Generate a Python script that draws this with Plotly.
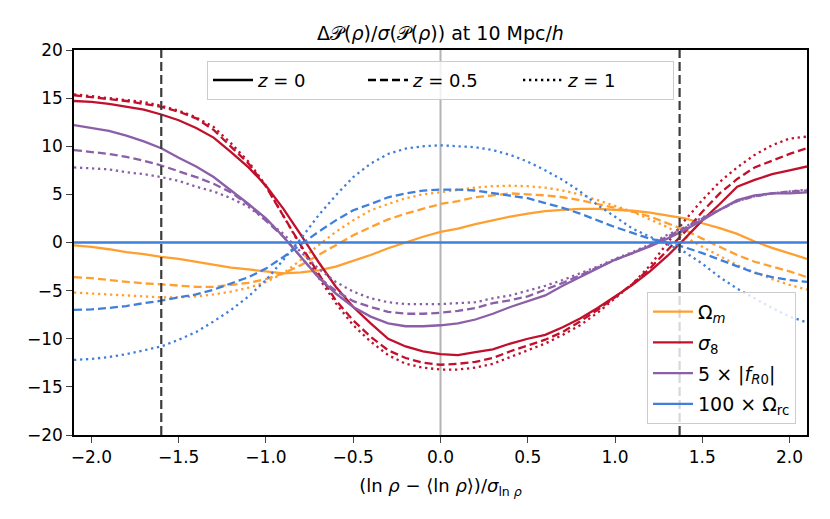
import plotly.graph_objects as go

# normalised log-density bins
x = [-2.1, -2.0, -1.9, -1.8, -1.7, -1.6, -1.5, -1.4, -1.3, -1.2, -1.1,
     -1.0, -0.9, -0.8, -0.7, -0.6, -0.5, -0.4, -0.3, -0.2, -0.1, 0.0,
     0.1, 0.2, 0.3, 0.4, 0.5, 0.6, 0.7, 0.8, 0.9, 1.0, 1.1,
     1.2, 1.3, 1.4, 1.5, 1.6, 1.7, 1.8, 1.9, 2.0, 2.1]

# Omega_m
om_z0 = [-0.3, -0.45, -0.7, -1.0, -1.2, -1.5, -1.7, -2.0, -2.35, -2.6, -2.8,
         -3.0, -3.2, -3.1, -2.9, -2.5, -1.9, -1.3, -0.6, 0.0, 0.6, 1.1,
         1.45, 1.9, 2.3, 2.7, 3.0, 3.25, 3.4, 3.5, 3.5, 3.4, 3.3,
         3.1, 2.8, 2.5, 2.0, 1.5, 0.9, 0.1, -0.55, -1.1, -1.7]
om_z05 = [-3.6, -3.7, -3.9, -4.1, -4.25, -4.35, -4.5, -4.6, -4.6, -4.4, -4.2,
          -3.8, -3.2, -2.35, -1.3, -0.3, 0.75, 1.6, 2.4, 3.0, 3.5, 4.0,
          4.3, 4.7, 4.9, 5.1, 5.0, 4.9, 4.7, 4.4, 4.0, 3.6, 3.2,
          2.7, 2.0, 1.3, 0.4, -0.45, -1.3, -2.0, -2.5, -3.0, -3.6]
om_z1 = [-5.2, -5.3, -5.4, -5.5, -5.6, -5.7, -5.7, -5.6, -5.4, -5.1, -4.7,
         -4.1, -3.2, -1.8, -0.3, 1.1, 2.3, 3.35, 4.0, 4.6, 5.0, 5.25,
         5.5, 5.7, 5.85, 5.9, 5.85, 5.7, 5.4, 5.0, 4.4, 3.8, 3.2,
         2.4, 1.6, 0.6, -0.45, -1.4, -2.35, -3.1, -3.8, -4.4, -4.9]

# sigma_8
s8_z0 = [14.7, 14.6, 14.4, 14.1, 13.8, 13.3, 12.7, 11.9, 10.9, 9.4, 7.8,
         5.9, 3.5, 0.8, -2.0, -4.6, -6.7, -8.4, -10.0, -10.8, -11.3, -11.6,
         -11.7, -11.4, -11.1, -10.5, -10.0, -9.6, -8.8, -7.9, -6.8, -5.6, -4.4,
         -3.0, -1.4, 0.4, 2.3, 4.0, 5.8, 6.5, 7.1, 7.5, 7.9]
s8_z05 = [15.3, 15.1, 14.9, 14.7, 14.4, 14.1, 13.6, 12.9, 11.7, 9.9, 8.2,
          5.8, 2.7, -0.3, -3.2, -6.0, -8.1, -9.8, -11.2, -12.0, -12.5, -12.7,
          -12.6, -12.4, -12.0, -11.3, -10.7, -10.1, -9.3, -8.2, -7.0, -5.7, -4.3,
          -2.7, -0.8, 1.1, 3.2, 5.1, 6.6, 7.8, 8.5, 9.2, 9.8]
s8_z1 = [15.4, 15.2, 15.0, 14.8, 14.6, 14.2, 13.7, 13.0, 12.0, 10.3, 8.4,
         5.9, 2.8, -0.4, -3.6, -6.3, -8.6, -10.3, -11.7, -12.6, -13.0, -13.2,
         -13.2, -13.0, -12.6, -11.9, -11.2, -10.5, -9.6, -8.6, -7.3, -5.8, -4.3,
         -2.4, -0.1, 2.3, 4.4, 6.3, 7.8, 9.1, 10.1, 10.8, 11.0]

# 5 x |f_R0|
fr_z0 = [12.2, 11.9, 11.6, 11.1, 10.5, 9.8, 8.8, 7.9, 6.8, 5.4, 4.0,
         2.5, 0.6, -1.5, -3.6, -5.3, -6.7, -7.7, -8.4, -8.7, -8.7, -8.6,
         -8.4, -8.0, -7.4, -6.7, -6.1, -5.5, -4.5, -3.6, -2.7, -1.8, -1.1,
         -0.4, 0.4, 1.3, 2.3, 3.4, 4.4, 4.9, 5.1, 5.1, 5.2]
fr_z05 = [9.6, 9.4, 9.2, 8.9, 8.5, 8.0, 7.4, 6.8, 6.1, 5.2, 3.9,
          2.3, 0.6, -1.5, -3.6, -5.0, -6.1, -6.7, -7.2, -7.4, -7.4, -7.3,
          -7.1, -6.8, -6.3, -6.0, -5.6, -4.9, -4.2, -3.4, -2.6, -1.8, -1.1,
          -0.3, 0.6, 1.5, 2.5, 3.4, 4.3, 4.8, 5.1, 5.3, 5.4]
fr_z1 = [7.8, 7.7, 7.6, 7.3, 7.1, 6.8, 6.4, 5.8, 5.3, 4.6, 3.7,
         2.3, 0.9, -1.0, -2.7, -4.1, -5.1, -5.8, -6.2, -6.4, -6.4, -6.4,
         -6.3, -6.2, -5.8, -5.5, -5.0, -4.5, -3.9, -3.2, -2.5, -1.7, -1.0,
         -0.2, 0.8, 1.6, 2.6, 3.4, 4.3, 4.8, 5.1, 5.3, 5.5]

# 100 x Omega_rc
rc_z0 = [0.0, 0.0, 0.0, 0.0, 0.0, 0.0, 0.0, 0.0, 0.0, 0.0, 0.0,
         0.0, 0.0, 0.0, 0.0, 0.0, 0.0, 0.0, 0.0, 0.0, 0.0, 0.0,
         0.0, 0.0, 0.0, 0.0, 0.0, 0.0, 0.0, 0.0, 0.0, 0.0, 0.0,
         0.0, 0.0, 0.0, 0.0, 0.0, 0.0, 0.0, 0.0, 0.0, 0.0]
rc_z05 = [-7.0, -6.95, -6.8, -6.6, -6.3, -6.05, -5.7, -5.4, -4.9, -4.25, -3.6,
          -2.7, -1.5, -0.2, 1.1, 2.3, 3.35, 4.0, 4.7, 5.1, 5.4, 5.5,
          5.5, 5.4, 5.15, 4.9, 4.6, 4.1, 3.6, 3.0, 2.3, 1.6, 1.0,
          0.4, 0.0, -0.5, -1.1, -1.8, -2.5, -3.15, -3.6, -3.9, -4.1]
rc_z1 = [-12.2, -12.1, -11.9, -11.6, -11.2, -10.8, -10.1, -9.3, -8.2, -7.0, -5.6,
         -3.9, -1.8, 0.4, 2.8, 4.9, 6.8, 8.2, 9.2, 9.75, 10.0, 10.1,
         10.0, 9.9, 9.6, 9.1, 8.4, 7.5, 6.5, 5.3, 3.9, 2.7, 1.45,
         0.6, -0.2, -1.0, -2.2, -3.6, -4.8, -5.8, -6.8, -7.7, -8.3]

# scale cuts
x_low, x_high = -1.6, 1.37

params = [
    ("Ω<sub><i>m</i></sub>", "#ff9f2f", [om_z0, om_z05, om_z1]),
    ("<i>σ</i><sub>8</sub>", "#c1102c", [s8_z0, s8_z05, s8_z1]),
    ("5 × |<i>f</i><sub><i>R</i>0</sub>|", "#8b5fa8", [fr_z0, fr_z05, fr_z1]),
    ("100 × Ω<sub>rc</sub>", "#3f7fdc", [rc_z0, rc_z05, rc_z1]),
]
redshifts = ["<i>z</i> = 0", "<i>z</i> = 0.5", "<i>z</i> = 1"]
dashes = ["solid", "8px,4px", "2.3px,3.7px"]

fig = go.Figure()

for k, (name, color, series) in enumerate(params):
    for i, y in enumerate(series):
        fig.add_trace(go.Scatter(
            x=x, y=y, mode="lines", name=name,
            line=dict(color=color, width=2.3, dash=dashes[i]),
            showlegend=(i == 0), legend="legend2", legendgroup="p%d" % k,
        ))

# black redshift keys
for zlab, d in zip(redshifts, dashes):
    fig.add_trace(go.Scatter(
        x=[None], y=[None], mode="lines", name=zlab,
        line=dict(color="black", width=2.5, dash=d),
        legend="legend",
    ))

fig.add_vline(x=0, line=dict(color="#b4b4b4", width=2), layer="below")
for xc in [x_low, x_high]:
    fig.add_vline(x=xc, line=dict(color="#3c3c3c", width=2.2, dash="9px,4px"))

font = "DejaVu Sans, sans-serif"

# page body adds an 8px offset, so the figure is 8px smaller than the window
fig.update_layout(
    width=822, height=511,
    margin=dict(l=66, r=23, t=42, b=84),
    plot_bgcolor="white", paper_bgcolor="white",
    font=dict(family=font, size=17, color="black"),
    title=dict(text="Δ𝒫(<i>ρ</i>)/<i>σ</i>(𝒫(<i>ρ</i>)) at 10 Mpc/<i>h</i>",
               x=0.5, xanchor="center", xref="paper",
               y=0.951, yref="container", yanchor="middle", font=dict(size=19)),
    showlegend=True,
    legend=dict(
        orientation="h", x=0.5, xanchor="center", y=0.972, yanchor="top",
        bgcolor="rgba(255,255,255,0.8)", bordercolor="#cccccc", borderwidth=1,
        font=dict(size=18), itemwidth=40, entrywidth=100,
    ),
    legend2=dict(
        x=0.985, xanchor="right", y=0.029, yanchor="bottom",
        bgcolor="rgba(255,255,255,0.8)", bordercolor="#cccccc", borderwidth=1,
        font=dict(size=19), itemwidth=40, tracegroupgap=3,
    ),
    xaxis=dict(
        range=[-2.1, 2.1], tickvals=[-2.0, -1.5, -1.0, -0.5, 0.0, 0.5, 1.0, 1.5, 2.0],
        tickformat=".1f", ticks="outside", ticklen=6, tickwidth=1.2,
        showgrid=False, zeroline=False, showline=True, linecolor="black",
        linewidth=1.5, mirror=True, tickfont=dict(size=17),
        title=dict(text="(ln <i>ρ</i> − ⟨ln <i>ρ</i>⟩)/<i>σ</i><sub>ln <i>ρ</i></sub>",
                   font=dict(size=18), standoff=13),
    ),
    yaxis=dict(
        range=[-20, 20], tickvals=[-20, -15, -10, -5, 0, 5, 10, 15, 20],
        ticks="outside", ticklen=6, tickwidth=1.2,
        showgrid=False, zeroline=False, showline=True, linecolor="black",
        linewidth=1.5, mirror=True, tickfont=dict(size=17),
    ),
)

fig.write_html("out.html")
